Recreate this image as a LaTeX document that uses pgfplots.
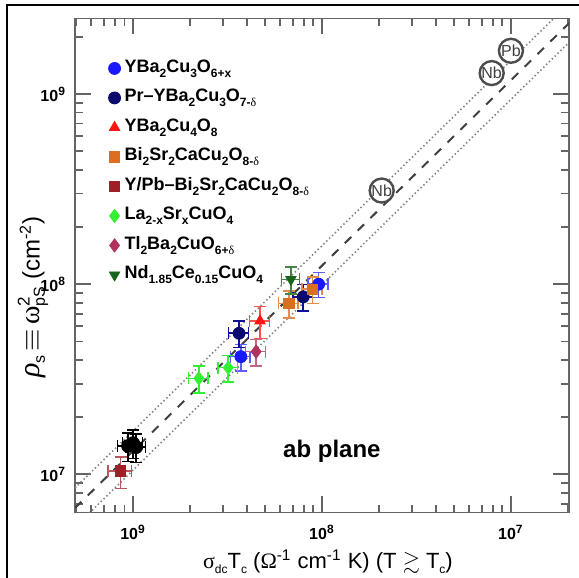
\documentclass[border=0pt]{standalone}
\usepackage{amssymb}
\usepackage{pgfplots}
\pgfplotsset{compat=1.18}
\usepackage{fontspec}
\setmainfont{Liberation Sans}
\newfontfamily\sym{Liberation Serif}
\definecolor{cblue}{RGB}{25,25,255}
\definecolor{cnavy}{RGB}{10,10,110}
\definecolor{cred}{RGB}{255,20,20}
\definecolor{corange}{RGB}{220,110,30}
\definecolor{cdred}{RGB}{160,30,40}
\definecolor{cgreen}{RGB}{50,240,50}
\definecolor{ctl}{RGB}{175,50,95}
\definecolor{cnd}{RGB}{25,100,25}
\definecolor{axgray}{RGB}{100,100,100}
\newcommand\sub[1]{\raisebox{-2.4pt}{\fontsize{6}{7}\selectfont #1}}
\newcommand\dl{{\sym\mdseries δ}}

\pgfplotstableread{
u Y ex ey
3.72e7 4.16e7 0.12 0.16
9.6e7 1.0e8 0.12 0.15
}\tblue
\pgfplotstableread{
u Y ex ey
3.64e7 5.52e7 0.12 0.16
7.96e7 8.58e7 0.12 0.16
}\tnavy
\pgfplotstableread{
u Y ex ey
4.70e7 6.41e7 0.12 0.19
}\tred
\pgfplotstableread{
u Y ex ey
6.68e7 7.93e7 0.12 0.16
8.93e7 9.42e7 0.12 0.16
}\torange
\pgfplotstableread{
u Y ex ey
8.6e6 1.04e7 0.14 0.19
}\tdred
\pgfplotstableread{
u Y ex ey
2.23e7 3.2e7 0.12 0.16
3.19e7 3.64e7 0.12 0.16
}\tgreen
\pgfplotstableread{
u Y ex ey
4.48e7 4.42e7 0.12 0.16
}\ttl
\pgfplotstableread{
u Y ex ey
6.85e7 1.06e8 0.11 0.16
}\tnd
\pgfplotstableread{
u Y ex ey
9.4e6 1.41e7 0.12 0.17
1.0e7 1.46e7 0.12 0.17
1.04e7 1.39e7 0.12 0.17
}\tblack
\pgfplotstableread{
u Y lab
2.07e8 3.11e8 Nb
7.91e8 1.29e9 Nb
1.0e9 1.69e9 Pb
}\telem

\begin{document}
\begin{tikzpicture}
\useasboundingbox (-37.5pt,-32.75pt) rectangle (252pt,256.25pt);
\begin{axis}[
  at={(0,0)}, anchor=south west,
  scale only axis, width=247pt, height=247pt,
  xmode=log, ymode=log,
  xmin=4.93e6, xmax=2.03e9, ymin=6.3e6, ymax=2.5e9,
  axis line style={axgray, line width=0.9pt},
  tick style={axgray, line width=0.9pt},
  tick align=inside, tick pos=both,
  major tick length=8pt, minor tick length=3.8pt,
  xtick={1e7,1e8,1e9},
  xticklabels={10\textsuperscript{9},10\textsuperscript{8},10\textsuperscript{7}},
  ytick={1e7,1e8,1e9},
  yticklabels={10\textsuperscript{7},10\textsuperscript{8},10\textsuperscript{9}},
  minor xtick={5e6,6e6,7e6,8e6,9e6,2e7,3e7,4e7,5e7,6e7,7e7,8e7,9e7,2e8,3e8,4e8,5e8,6e8,7e8,8e8,9e8,2e9},
  minor ytick={7e6,8e6,9e6,2e7,3e7,4e7,5e7,6e7,7e7,8e7,9e7,2e8,3e8,4e8,5e8,6e8,7e8,8e8,9e8,2e9},
  ticklabel style={font=\bfseries\fontsize{8}{9}\selectfont},
  xticklabel style={yshift=-3pt},
  yticklabel style={xshift=-1pt},
  xlabel={{\sym σ}\sub{dc}T\sub{c} ({\sym Ω}\textsuperscript{-1} cm\textsuperscript{-1} K) (T $\gtrsim$ T\sub{c})},
  xlabel style={font=\fontsize{11}{13}\selectfont, at={(axis description cs:0.512,-0.1)}, anchor=center},
  ylabel={{\sym\itshape\fontsize{15}{16}\selectfont ρ}\raisebox{-2.6pt}{\fontsize{8}{9}\selectfont s}\,{\fontsize{15}{16}\selectfont$\equiv$}\,{\sym\fontsize{14}{16}\selectfont ω}\rlap{\raisebox{5pt}{\fontsize{8.5}{9}\selectfont 2}}\raisebox{-2.6pt}{\fontsize{8}{9}\selectfont pS} (cm\textsuperscript{-2})},
  ylabel style={font=\fontsize{12}{14}\selectfont, at={(axis description cs:-0.085,0.436)}, anchor=center},
  legend cell align=left,
  legend image code/.code={\draw[#1] plot coordinates {(0pt,0pt)};},
  legend style={at={(axis description cs:0.055,0.928)}, anchor=north west, draw=none, fill=none,
     font=\bfseries\fontsize{9}{10}\selectfont, row sep=4.75pt,
     nodes={inner sep=0pt, text height=7pt, text depth=3pt},
     column sep=2pt},
  error bars/error bar style={line width=0.8pt},
  error bars/error mark=-,
  error bars/error mark options={rotate=90, line width=0.8pt, mark size=3pt},
]
% guide lines
\addplot[forget plot, gray, line width=0.8pt, dash pattern=on 0.7pt off 1.3pt] coordinates {(4.93e6,8.48e6) (2.03e9,3.0e9)};
\addplot[forget plot, gray, line width=0.8pt, dash pattern=on 0.7pt off 1.3pt] coordinates {(4.93e6,5.28e6) (2.03e9,1.87e9)};
\addplot[forget plot, black!75, line width=1pt, dash pattern=on 4.5pt off 4.5pt] coordinates {(4.93e6,6.65e6) (2.03e9,2.36e9)};
% elements
\addplot[forget plot, only marks, mark=*, mark size=6pt, mark options={draw=black!70, fill=white, line width=1.2pt},
  nodes near coords, point meta=explicit symbolic,
  every node near coord/.style={anchor=center, font=\fontsize{8}{9}\selectfont, text=black!75}]
  table[x=u, y=Y, meta=lab] {\telem};
% data
\addplot[only marks, mark=*, mark size=3pt, color=cblue,
  error bars/.cd, x dir=both, x explicit relative, y dir=both, y explicit relative, error bar style={cblue!70}]
  table[x=u, y=Y, x error=ex, y error=ey] {\tblue};
\addlegendentry{YBa\sub{2}Cu\sub{3}O\sub{6+x}}
\addplot[only marks, mark=*, mark size=3pt, color=cnavy,
  error bars/.cd, x dir=both, x explicit relative, y dir=both, y explicit relative, error bar style={cblue!60!black}]
  table[x=u, y=Y, x error=ex, y error=ey] {\tnavy};
\addlegendentry{Pr–YBa\sub{2}Cu\sub{3}O\sub{7-\dl}}
\addplot[only marks, mark=triangle*, mark size=3pt, color=cred,
  error bars/.cd, x dir=both, x explicit relative, y dir=both, y explicit relative, error bar style={cred!75}]
  table[x=u, y=Y, x error=ex, y error=ey] {\tred};
\addlegendentry{YBa\sub{2}Cu\sub{4}O\sub{8}}
\addplot[only marks, mark=square*, mark size=2.6pt, color=corange,
  error bars/.cd, x dir=both, x explicit relative, y dir=both, y explicit relative, error bar style={corange!80}]
  table[x=u, y=Y, x error=ex, y error=ey] {\torange};
\addlegendentry{Bi\sub{2}Sr\sub{2}CaCu\sub{2}O\sub{8-\dl}}
\addplot[only marks, mark=square*, mark size=2.6pt, color=cdred,
  error bars/.cd, x dir=both, x explicit relative, y dir=both, y explicit relative, error bar style={cdred!75}]
  table[x=u, y=Y, x error=ex, y error=ey] {\tdred};
\addlegendentry{Y/Pb–Bi\sub{2}Sr\sub{2}CaCu\sub{2}O\sub{8-\dl}}
\addplot[only marks, mark=diamond*, mark size=3.3pt, color=cgreen,
  error bars/.cd, x dir=both, x explicit relative, y dir=both, y explicit relative, error bar style={cgreen}]
  table[x=u, y=Y, x error=ex, y error=ey] {\tgreen};
\addlegendentry{La\sub{2-x}Sr\sub{x}CuO\sub{4}}
\addplot[only marks, mark=diamond*, mark size=3.3pt, color=ctl,
  error bars/.cd, x dir=both, x explicit relative, y dir=both, y explicit relative, error bar style={ctl!75}]
  table[x=u, y=Y, x error=ex, y error=ey] {\ttl};
\addlegendentry{Tl\sub{2}Ba\sub{2}CuO\sub{6+\dl}}
\addplot[only marks, mark=triangle*, mark options={rotate=180}, mark size=3pt, color=cnd,
  error bars/.cd, x dir=both, x explicit relative, y dir=both, y explicit relative, error bar style={cnd!80}]
  table[x=u, y=Y, x error=ex, y error=ey] {\tnd};
\addlegendentry{Nd\sub{1.85}Ce\sub{0.15}CuO\sub{4}}
\addplot[forget plot, only marks, mark=*, mark size=3.2pt, color=black,
  error bars/.cd, x dir=both, x explicit relative, y dir=both, y explicit relative, error bar style={black}]
  table[x=u, y=Y, x error=ex, y error=ey] {\tblack};
\node[font=\bfseries\fontsize{12}{14}\selectfont] at (axis description cs:0.52,0.123) {ab plane};
\end{axis}
\draw[black, line width=1pt] (-34pt,-40pt) -- (-34pt,253.75pt) -- (260pt,253.75pt);
\end{tikzpicture}
\end{document}
